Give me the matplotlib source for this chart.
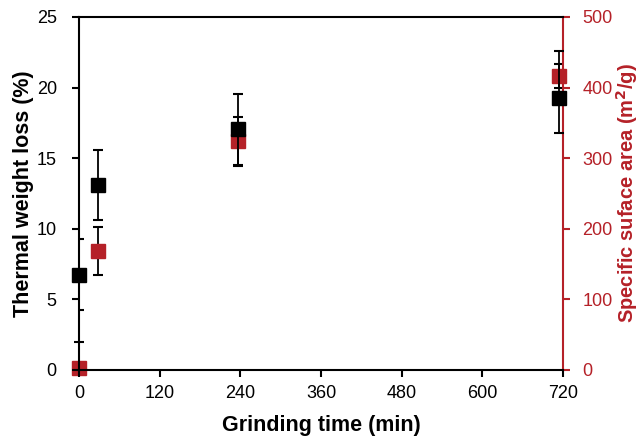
import matplotlib.pyplot as plt

plt.rcParams['font.family'] = ['Liberation Sans', 'DejaVu Sans']

# data
grind_time = [0, 28, 237, 714]
weight_loss = [6.75, 13.1, 17.1, 19.26]
weight_err_lo = [2.5, 2.5, 2.55, 2.5]
weight_err_hi = [2.5, 2.45, 2.45, 3.3]
surface_area = [3, 168, 324, 417]
surface_err_lo = [3, 34, 35, 17]
surface_err_hi = [36, 34, 35, 17]

x_ticks = [0, 120, 240, 360, 480, 600, 720]
red = '#B52128'

fig = plt.figure(figsize=(6.43, 4.38), dpi=100)
ax = fig.add_axes([0.1229, 0.1553, 0.7527, 0.8059])
ax2 = ax.twinx()

# black series on top of the red one
ax.set_zorder(ax2.get_zorder() + 1)
ax.patch.set_visible(False)

red_parts = ax2.errorbar(grind_time, surface_area, yerr=[surface_err_lo, surface_err_hi],
                         fmt='s', color=red, mec=red, ecolor='black', elinewidth=1.3,
                         capsize=3.5, capthick=1.5, markersize=10)
black_parts = ax.errorbar(grind_time, weight_loss, yerr=[weight_err_lo, weight_err_hi],
                          fmt='s', color='black', mec='black', ecolor='black',
                          elinewidth=1.3, capsize=3.5, capthick=1.5, markersize=10)
for artist in red_parts.get_children():
    artist.set_clip_on(False)
# markers sit on the axis, the black bars at t=0 hide behind the spine
black_parts.get_children()[0].set_clip_on(False)

ax.set_xlim(0, 720)
ax.set_ylim(0, 25)
ax2.set_ylim(0, 500)
ax.set_xticks(x_ticks)
ax.set_yticks([0, 5, 10, 15, 20, 25])
ax2.set_yticks([0, 100, 200, 300, 400, 500])

for s in ['left', 'bottom', 'top']:
    ax.spines[s].set_linewidth(1.5)
ax.spines['right'].set_visible(False)
for s in ['left', 'bottom', 'top']:
    ax2.spines[s].set_visible(False)
ax2.spines['right'].set_color(red)
ax2.spines['right'].set_linewidth(1.5)

ax.tick_params(axis='both', direction='out', length=5, width=1.5, labelsize=13,
               top=False, right=False)
ax.tick_params(axis='y', pad=11)
ax.tick_params(axis='x', pad=6)
ax2.tick_params(axis='y', direction='out', length=5, width=1.5, labelsize=13,
                colors=red, pad=9)

ax.set_xlabel('Grinding time (min)', fontsize=15.5, fontweight='bold', labelpad=9)
ax.set_ylabel('Thermal weight loss (%)', fontsize=15.5, fontweight='bold', labelpad=2)
ax2.set_ylabel('Specific suface area (m$^\\mathbf{2}$/g)', fontsize=14.5,
               fontweight='bold', color=red, labelpad=1)

fig.savefig('out.png', dpi=100)
